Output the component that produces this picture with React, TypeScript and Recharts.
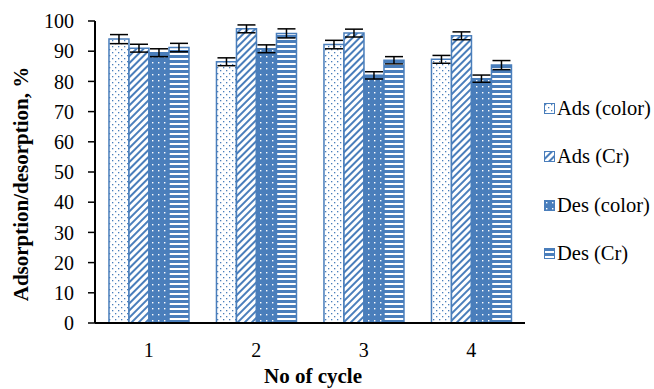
import { BarChart, Bar, XAxis, YAxis, ErrorBar } from 'recharts';

const cycles = ['1', '2', '3', '4'];
const adsColor = [94, 86.5, 92.2, 87.3];
const adsCr = [91, 97.4, 96, 95.1];
const desColor = [89.5, 90.8, 82, 80.9];
const desCr = [91.2, 95.9, 87, 85.4];
const adsColorErr = [1.5, 1.3, 1.4, 1.3];
const adsCrErr = [1.3, 1.3, 1.3, 1.3];
const desColorErr = [1.3, 1.3, 1.2, 1.2];
const desCrErr = [1.4, 1.5, 1.2, 1.5];
const yTicks = [0, 10, 20, 30, 40, 50, 60, 70, 80, 90, 100];

const BLUE = '#4a7ebb';
const FONT = '"Liberation Serif", "Times New Roman", serif';

const data = cycles.map((c, i) => ({
  cycle: c,
  adsColor: adsColor[i],
  adsCr: adsCr[i],
  desColor: desColor[i],
  desCr: desCr[i],
  adsColorErr: adsColorErr[i],
  adsCrErr: adsCrErr[i],
  desColorErr: desColorErr[i],
  desCrErr: desCrErr[i],
}));

const series = [
  { key: 'adsColor', name: 'Ads (color)', fill: 'url(#patDots)', err: 'adsColorErr' },
  { key: 'adsCr', name: 'Ads (Cr)', fill: 'url(#patDiag)', err: 'adsCrErr' },
  { key: 'desColor', name: 'Des (color)', fill: 'url(#patSolidDots)', err: 'desColorErr' },
  { key: 'desCr', name: 'Des (Cr)', fill: 'url(#patStripes)', err: 'desCrErr' },
];

function Patterns() {
  return (
    <svg width={0} height={0} style={{ position: 'absolute' }}>
      <defs>
        <pattern id="patDots" width="6" height="6" patternUnits="userSpaceOnUse">
          <rect width="6" height="6" fill="#fff" />
          <rect x="1" y="1" width="1.3" height="1.3" fill={BLUE} />
          <rect x="4" y="4" width="1.3" height="1.3" fill={BLUE} />
        </pattern>
        <pattern id="patDiag" width="5" height="5" patternUnits="userSpaceOnUse" patternTransform="rotate(45)">
          <rect width="5" height="5" fill="#fff" />
          <rect x="0" y="0" width="2" height="5" fill={BLUE} />
        </pattern>
        <pattern id="patSolidDots" width="6" height="6" patternUnits="userSpaceOnUse">
          <rect width="6" height="6" fill={BLUE} />
          <rect x="2" y="2" width="1.4" height="1.4" fill="#fff" />
        </pattern>
        <pattern id="patStripes" width="5" height="5" patternUnits="userSpaceOnUse">
          <rect width="5" height="5" fill="#fff" />
          <rect x="0" y="0" width="5" height="3" fill={BLUE} />
        </pattern>
      </defs>
    </svg>
  );
}

function ChartLegend() {
  return (
    <div
      style={{
        position: 'absolute',
        left: 544,
        top: 84,
        width: 110,
        whiteSpace: 'nowrap',
        fontFamily: FONT,
        fontSize: 20.5,
        color: '#000',
      }}
    >
      {series.map((s) => (
        <div key={s.key} style={{ display: 'flex', alignItems: 'center', height: 48.5 }}>
          <svg width={11} height={11} style={{ marginRight: 2, flexShrink: 0 }}>
            <rect x={0.5} y={0.5} width={10} height={10} fill={s.fill} stroke={BLUE} strokeWidth={1} />
          </svg>
          <span>{s.name}</span>
        </div>
      ))}
    </div>
  );
}

const YTitle = () => (
  <text
    x={28}
    y={184}
    transform="rotate(-90, 28, 184)"
    textAnchor="middle"
    fill="#000"
    fontSize={21}
    fontWeight="bold"
    fontFamily={FONT}
  >
    Adsorption/desorption, %
  </text>
);

const XTitle = () => (
  <text x={313} y={383} textAnchor="middle" fill="#000" fontSize={21} fontWeight="bold" fontFamily={FONT}>
    No of cycle
  </text>
);

export default function App() {
  return (
    <div style={{ position: 'absolute', left: 0, top: 0, width: 654, height: 389, background: '#fff' }}>
      <Patterns />
      <BarChart
        width={654}
        height={389}
        data={data}
        margin={{ top: 21, right: 129, bottom: 0, left: 0 }}
        barCategoryGap="13%"
        barGap={0}
      >
        <XAxis
          dataKey="cycle"
          height={66}
          tickLine={false}
          axisLine={{ stroke: '#000', strokeWidth: 2 }}
          tick={{ fill: '#000', fontSize: 20, fontFamily: FONT }}
          tickMargin={14}
          label={<XTitle />}
        />
        <YAxis
          width={95}
          domain={[0, 100]}
          ticks={yTicks}
          interval={0}
          tickSize={7}
          tickLine={{ stroke: '#000', strokeWidth: 1.5 }}
          axisLine={{ stroke: '#000', strokeWidth: 2 }}
          tick={{ fill: '#000', fontSize: 20, fontFamily: FONT }}
          tickMargin={14}
          label={<YTitle />}
        />
        {series.map((s) => (
          <Bar
            key={s.key}
            dataKey={s.key}
            name={s.name}
            fill={s.fill}
            stroke={BLUE}
            strokeWidth={1.5}
            isAnimationActive={false}
          >
            <ErrorBar dataKey={s.err} width={9} stroke="#000" strokeWidth={1.5} isAnimationActive={false} />
          </Bar>
        ))}
      </BarChart>
      <ChartLegend />
    </div>
  );
}
